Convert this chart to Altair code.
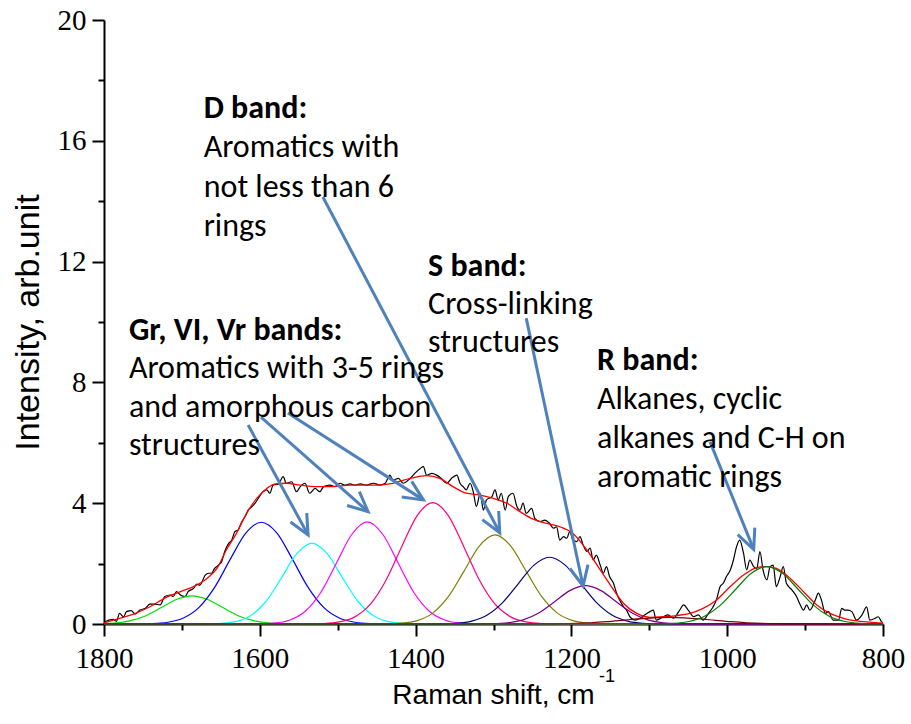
import math
import altair as alt
import pandas as pd

# ---------------- data ----------------
# measured Raman spectrum (black)
spec_x = [1800, 1794, 1788, 1784, 1780, 1775, 1771, 1765, 1760, 1754, 1747, 1741, 1735, 1728, 1722,
          1715, 1711, 1707, 1702, 1696, 1692, 1685, 1681, 1677, 1670, 1666, 1662, 1658, 1653, 1649,
          1645, 1640, 1636, 1632, 1628, 1623, 1619, 1615, 1610, 1606, 1602, 1596, 1591, 1587, 1583,
          1576, 1570, 1566, 1559, 1553, 1548, 1542, 1536, 1529, 1523, 1518, 1510, 1504, 1497, 1491,
          1484, 1478, 1471, 1463, 1454, 1446, 1439, 1433, 1429, 1422, 1416, 1407, 1401, 1394, 1390,
          1386, 1379, 1373, 1367, 1360, 1354, 1347, 1343, 1339, 1335, 1330, 1326, 1322, 1317, 1313,
          1309, 1302, 1298, 1294, 1290, 1285, 1281, 1275, 1270, 1266, 1262, 1258, 1251, 1247, 1240,
          1234, 1228, 1223, 1219, 1215, 1210, 1206, 1202, 1198, 1193, 1189, 1185, 1180, 1176, 1172,
          1168, 1163, 1159, 1155, 1151, 1146, 1142, 1138, 1133, 1129, 1125, 1118, 1112, 1103, 1099,
          1095, 1091, 1082, 1076, 1069, 1061, 1056, 1050, 1043, 1037, 1031, 1024, 1018, 1014, 1009,
          1005, 1001, 996, 992, 988, 984, 979, 975, 971, 966, 962, 958, 954, 949, 945, 941, 937, 932,
          928, 924, 917, 911, 907, 902, 898, 894, 887, 883, 879, 874, 870, 864, 857, 853, 849, 845,
          840, 834, 827, 821, 817, 810, 806, 802, 800]
spec_y = [0.04, 0.13, 0.15, 0.09, 0.35, 0.24, 0.41, 0.44, 0.33, 0.46, 0.52, 0.66, 0.66, 0.63, 0.91,
          0.96, 0.91, 1.07, 0.96, 0.91, 1.07, 1.18, 1.32, 1.29, 1.62, 1.68, 1.68, 1.84, 1.95, 2.06,
          2.40, 2.67, 2.78, 3.06, 3.11, 3.39, 3.55, 3.77, 3.89, 4.00, 4.16, 4.38, 4.44, 4.33, 4.60,
          4.64, 4.88, 4.66, 4.71, 4.38, 4.55, 4.66, 4.33, 4.49, 4.38, 4.55, 4.60, 4.55, 4.66, 4.60,
          4.64, 4.60, 4.64, 4.60, 4.66, 4.60, 4.66, 4.93, 4.77, 4.82, 4.66, 4.82, 4.99, 5.15, 5.21,
          4.93, 4.99, 4.93, 4.82, 4.66, 4.82, 4.93, 4.66, 4.55, 4.44, 4.66, 4.38, 3.89, 4.33, 3.77,
          4.11, 4.22, 4.44, 4.11, 4.33, 3.77, 4.22, 4.33, 3.89, 3.77, 4.00, 3.66, 3.83, 3.50, 3.39,
          3.44, 3.33, 3.17, 3.22, 2.78, 2.89, 2.84, 3.06, 2.78, 2.73, 2.89, 2.62, 2.40, 2.51, 2.12,
          2.28, 1.95, 1.68, 1.90, 1.57, 1.35, 1.02, 0.79, 0.57, 0.45, 0.24, 0.13, 0.19, 0.35, 0.41,
          0.46, 0.13, 0.24, 0.30, 0.19, 0.46, 0.63, 0.46, 0.24, 0.30, 0.13, 0.35, 0.57, 0.79, 1.24,
          1.35, 1.57, 1.79, 2.12, 2.56, 2.78, 2.34, 1.79, 2.12, 1.90, 1.84, 2.40, 1.79, 1.46, 1.90,
          1.95, 1.24, 1.57, 1.90, 1.35, 1.13, 0.91, 0.68, 0.46, 0.63, 0.46, 0.79, 1.02, 0.79, 0.35,
          0.41, 0.13, 0.13, 0.52, 0.46, 0.46, 0.41, 0.13, 0.30, 0.57, 0.13, 0.19, 0.24, 0.08, 0.05]

# cumulative fit (red)
fit_x = [1800, 1780, 1762, 1741, 1720, 1702, 1685, 1668, 1655, 1643, 1630, 1617, 1604, 1591, 1580,
         1566, 1548, 1527, 1506, 1484, 1463, 1450, 1429, 1407, 1386, 1369, 1352, 1335, 1317, 1300,
         1283, 1266, 1249, 1232, 1215, 1198, 1180, 1163, 1150, 1133, 1116, 1099, 1082, 1065, 1048,
         1031, 1014, 996, 979, 962, 949, 937, 919, 902, 885, 868, 851, 834, 817, 800]
fit_y = [0.04, 0.19, 0.33, 0.57, 0.88, 1.07, 1.24, 1.51, 1.84, 2.45, 3.00, 3.66, 4.16, 4.49, 4.64,
         4.66, 4.60, 4.55, 4.55, 4.60, 4.60, 4.60, 4.66, 4.82, 4.91, 4.82, 4.55, 4.33, 4.27, 4.16,
         4.00, 3.72, 3.47, 3.33, 3.22, 3.00, 2.45, 1.79, 1.29, 0.68, 0.35, 0.22, 0.24, 0.28, 0.35,
         0.52, 0.79, 1.24, 1.62, 1.87, 1.90, 1.84, 1.51, 1.07, 0.63, 0.35, 0.19, 0.10, 0.06, 0.03]

# fitted component bands
green_x = [1800, 1787, 1767, 1747, 1727, 1707, 1687, 1667, 1647, 1627, 1607, 1587, 1567, 1547, 800]
green_y = [0.011, 0.029, 0.101, 0.267, 0.535, 0.810, 0.930, 0.810, 0.535, 0.267, 0.101, 0.029, 0.006, 0.001, 0]
blue_x = [1800, 1758, 1738, 1718, 1698, 1678, 1658, 1638, 1618, 1598, 1578, 1558, 1538, 1518, 1498, 1478, 1458, 1438, 800]
blue_y = [0, 0.002, 0.013, 0.057, 0.198, 0.549, 1.213, 2.140, 3.010, 3.370, 3.010, 2.140, 1.213, 0.549, 0.198, 0.057, 0.013, 0.002, 0]
cyan_x = [1800, 1673, 1653, 1633, 1613, 1593, 1573, 1553, 1533, 1513, 1493, 1473, 1453, 1433, 1413, 1393, 800]
cyan_y = [0, 0.002, 0.014, 0.069, 0.259, 0.720, 1.495, 2.315, 2.680, 2.315, 1.495, 0.720, 0.259, 0.069, 0.014, 0.002, 0]
magenta_x = [1800, 1602, 1582, 1562, 1542, 1522, 1502, 1482, 1462, 1442, 1422, 1402, 1382, 1362, 1342, 1322, 800]
magenta_y = [0, 0.005, 0.030, 0.126, 0.412, 1.034, 1.998, 2.964, 3.380, 2.964, 1.998, 1.034, 0.412, 0.126, 0.030, 0.005, 0]
pink_x = [1800, 1538, 1518, 1498, 1478, 1458, 1438, 1418, 1398, 1378, 1358, 1338, 1318, 1298, 1278, 1258, 1238, 1218, 800]
pink_y = [0, 0.003, 0.016, 0.068, 0.236, 0.655, 1.447, 2.553, 3.590, 4.020, 3.590, 2.553, 1.447, 0.655, 0.236, 0.068, 0.016, 0.003, 0]
olive_x = [1800, 1438, 1418, 1398, 1378, 1358, 1338, 1318, 1298, 1278, 1258, 1238, 1218, 1198, 1178, 1158, 800]
olive_y = [0, 0.005, 0.026, 0.110, 0.360, 0.903, 1.743, 2.587, 2.950, 2.587, 1.743, 0.903, 0.360, 0.110, 0.026, 0.005, 0]
navy_x = [1800, 1368, 1348, 1328, 1308, 1288, 1268, 1248, 1228, 1208, 1188, 1168, 1148, 1128, 1108, 1088, 800]
navy_y = [0, 0.005, 0.025, 0.097, 0.299, 0.718, 1.340, 1.950, 2.210, 1.950, 1.340, 0.718, 0.299, 0.097, 0.025, 0.005, 0]
purple_x = [1800, 1322, 1302, 1282, 1262, 1242, 1222, 1202, 1182, 1162, 1142, 1122, 1102, 1082, 1062, 1042, 800]
purple_y = [0, 0.001, 0.009, 0.040, 0.138, 0.365, 0.730, 1.106, 1.270, 1.106, 0.730, 0.365, 0.138, 0.040, 0.009, 0.001, 0]
wine_x = [1800, 1255, 1235, 1215, 1195, 1175, 1155, 1135, 1115, 1095, 1075, 1055, 1035, 1015, 995, 975, 955, 935, 915, 895, 800]
wine_y = [0, 0.001, 0.003, 0.009, 0.020, 0.042, 0.076, 0.121, 0.169, 0.206, 0.220, 0.206, 0.169, 0.121, 0.076, 0.042, 0.020, 0.009, 0.003, 0.001, 0]
dkgreen_x = [1800, 1089, 1069, 1049, 1029, 1009, 989, 969, 949, 929, 909, 889, 869, 849, 829, 809, 800]
dkgreen_y = [0, 0.004, 0.021, 0.083, 0.257, 0.617, 1.152, 1.677, 1.900, 1.677, 1.152, 0.617, 0.257, 0.083, 0.021, 0.004, 0.002]

band_colors = ["#00e000", "#0000ff", "#00ffff", "#ff00ff", "#ff0080",
               "#808000", "#000080", "#800080", "#800000", "#008000"]

# annotation texts (positions in data units)
head_text = ["Gr, VI, Vr bands:", "D band:", "S band:", "R band:"]
head_x = [1768, 1672, 1384, 1167]
head_y = [9.40, 16.75, 11.52, 8.41]
body_text = ["Aromatics with 3-5 rings", "and amorphous carbon", "structures",
             "Aromatics with", "not less than 6", "rings",
             "Cross-linking", "structures",
             "Alkanes, cyclic", "alkanes and C-H on", "aromatic rings"]
body_x = [1768, 1768, 1768, 1672, 1672, 1672, 1384, 1384, 1167, 1167, 1167]
body_y = [8.15, 6.85, 5.60, 15.46, 14.14, 12.85, 10.26, 9.01, 7.12, 5.83, 4.54]

# arrows: start -> tip (data units)
arrow_x0 = [1615, 1598.5, 1564, 1519, 1258, 1022]
arrow_y0 = [6.59, 6.85, 6.99, 14.14, 10.13, 6.03]
arrow_x1 = [1538, 1461, 1390, 1292, 1185, 966]
arrow_y1 = [2.95, 3.72, 4.11, 3.02, 1.26, 2.47]

# ---------------- chart ----------------
W, H = 779, 604
XMIN, XMAX = 800, 1800
YMIN, YMAX = 0, 20
kx = W / (XMAX - XMIN)
ky = H / (YMAX - YMIN)

ARROW = "#4f81bd"
SANS = "Liberation Sans, Arial, sans-serif"
NOTE_FONT = "Carlito, Lato, sans-serif"
NOTE_SIZE = 32

x_axis = alt.Axis(
    values=list(range(800, 1801, 100)), format="d",
    labelExpr="datum.value % 200 === 0 ? datum.label : ''",
    tickSize={"condition": {"test": "datum.value % 200 === 0", "value": 12}, "value": 6},
    tickWidth=2, tickColor="black", domainWidth=2, domainColor="black",
    labelFont="Liberation Serif", labelFontSize=29, labelColor="black", labelPadding=8,
    labelFlush=False, labelOverlap=False, grid=False,
    title="Raman shift, cm", titleFont=SANS, titleFontSize=28, titleFontWeight="normal",
    titleColor="black", titleX=389, titleY=79, titleBaseline="alphabetic", titleAlign="center",
)
y_axis = alt.Axis(
    values=list(range(0, 21, 2)), format="d",
    labelExpr="datum.value % 4 === 0 ? datum.label : ''",
    tickSize={"condition": {"test": "datum.value % 4 === 0", "value": 12}, "value": 6},
    tickWidth=2, tickColor="black", domainWidth=2, domainColor="black",
    labelFont="Liberation Serif", labelFontSize=29, labelColor="black", labelPadding=6,
    labelFlush=False, labelOverlap=False, grid=False,
    title="Intensity, arb.unit", titleFont=SANS, titleFontSize=34, titleFontWeight="normal",
    titleColor="black", titleX=-66, titleY=302, titleAngle=270, titleBaseline="alphabetic",
    titleAlign="center",
)

X = alt.X("x:Q", scale=alt.Scale(domain=[XMIN, XMAX], reverse=True, nice=False, zero=False), axis=x_axis)
Y = alt.Y("y:Q", scale=alt.Scale(domain=[YMIN, YMAX], nice=False, zero=True), axis=y_axis)

layers = []

spec_df = pd.DataFrame({"x": spec_x, "y": spec_y})
layers.append(alt.Chart(spec_df).mark_line(color="black", strokeWidth=1.2, interpolate="monotone").encode(x=X, y=Y))

fit_df = pd.DataFrame({"x": fit_x, "y": fit_y})
layers.append(alt.Chart(fit_df).mark_line(color="#ff0000", strokeWidth=1.3, interpolate="monotone").encode(x=X, y=Y))

bands = [(green_x, green_y), (blue_x, blue_y), (cyan_x, cyan_y), (magenta_x, magenta_y),
         (pink_x, pink_y), (olive_x, olive_y), (navy_x, navy_y), (purple_x, purple_y),
         (wine_x, wine_y), (dkgreen_x, dkgreen_y)]
for (bx, by), col in zip(bands, band_colors):
    df = pd.DataFrame({"x": bx, "y": by})
    layers.append(alt.Chart(df).mark_line(color=col, strokeWidth=1.2, interpolate="monotone").encode(x=X, y=Y))

# arrows (shaft + open arrowhead rotated along the shaft)
ang = []
for x0, y0, x1, y1 in zip(arrow_x0, arrow_y0, arrow_x1, arrow_y1):
    dx = -(x1 - x0) * kx
    dy = -(y1 - y0) * ky
    ang.append(math.degrees(math.atan2(-dx, dy)) % 360)
arr_df = pd.DataFrame({"x": arrow_x0, "y": arrow_y0, "x2": arrow_x1, "y2": arrow_y1})
layers.append(alt.Chart(arr_df).mark_rule(color=ARROW, strokeWidth=3).encode(
    x=X, y=Y, x2=alt.X2("x2:Q"), y2=alt.Y2("y2:Q")))
head_df = pd.DataFrame({"x": arrow_x1, "y": arrow_y1, "angle": ang})
layers.append(alt.Chart(head_df).mark_point(
    shape="M-0.42,-0.9L0,0L0.42,-0.9", filled=False, size=1936, strokeWidth=3,
    color=ARROW, opacity=1, strokeJoin="miter").encode(
    x=X, y=Y, angle=alt.Angle("angle:Q", scale=None)))

# annotation texts
hd = pd.DataFrame({"x": head_x, "y": head_y, "t": head_text})
layers.append(alt.Chart(hd).mark_text(align="left", baseline="alphabetic", font=NOTE_FONT,
                                      fontSize=NOTE_SIZE, fontWeight="bold", color="black").encode(
    x=X, y=Y, text="t:N"))
bd = pd.DataFrame({"x": body_x, "y": body_y, "t": body_text})
layers.append(alt.Chart(bd).mark_text(align="left", baseline="alphabetic", font=NOTE_FONT,
                                      fontSize=NOTE_SIZE, color="black").encode(
    x=X, y=Y, text="t:N"))

# superscript of the axis unit
sup = pd.DataFrame({"t": ["-1"]})
layers.append(alt.Chart(sup).mark_text(align="left", baseline="alphabetic", font=SANS,
                                       fontSize=18, color="black").encode(
    x=alt.value(495), y=alt.value(662), text="t:N"))

chart = alt.layer(*layers).properties(
    width=W, height=H,
    autosize=alt.AutoSizeParams(type="none"),
    padding={"left": 104, "top": 20, "right": 28, "bottom": 100},
    background="white",
).configure_view(stroke=None)

chart.save("out.html", embed_options={"renderer": "svg", "actions": False})
